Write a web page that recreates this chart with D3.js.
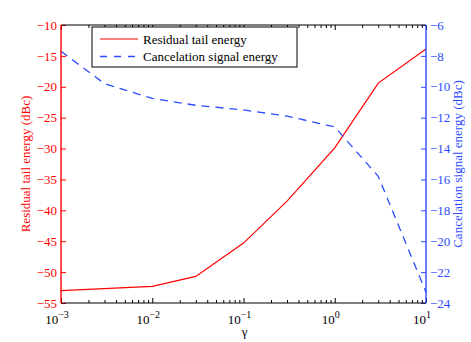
<!DOCTYPE html>
<html>
<head>
<meta charset="utf-8">
<script src="https://d3js.org/d3.v7.min.js"></script>
<style>
  body { margin: 0; background: #fff; }
  svg { font-family: "Liberation Serif", "Times New Roman", serif; }
</style>
</head>
<body>
<div id="chart"></div>
<script>
// data
const gammaRed = [0.001, 0.01, 0.03, 0.1, 0.3, 1, 3, 10];
const residual = [-53.0, -52.3, -50.7, -45.3, -38.5, -29.9, -19.4, -13.9];
const gammaBlue = [0.001, 0.003, 0.01, 0.03, 0.1, 0.3, 1, 3, 10];
const cancel = [-7.7, -9.8, -10.75, -11.2, -11.5, -11.9, -12.6, -15.8, -23.3];
const xTicks = [-3, -2, -1, 0, 1];          // exponents
const leftTicks = [-55, -50, -45, -40, -35, -30, -25, -20, -15, -10];
const rightTicks = [-24, -22, -20, -18, -16, -14, -12, -10, -8, -6];
const seriesNames = ["Residual tail energy", "Cancelation signal energy"];

const W = 471, H = 342;
const margin = { top: 25, right: 45, bottom: 39, left: 61 };
const width = W - margin.left - margin.right;
const height = H - margin.top - margin.bottom;
const RED = "#ff0000", BLUE = "#2b4bff";

const svg = d3.select("#chart").append("svg")
  .attr("width", W).attr("height", H);
const g = svg.append("g").attr("transform", `translate(${margin.left},${margin.top})`);

const x = d3.scaleLog().domain([1e-3, 10]).range([0, width]);
const yL = d3.scaleLinear().domain([-55, -10]).range([height, 0]);
const yR = d3.scaleLinear().domain([-24, -6]).range([height, 0]);

// minor ticks of the log axis
const minor = [];
for (let e = -3; e < 1; e++) for (let k = 2; k <= 9; k++) minor.push(k * Math.pow(10, e));

function styleAxis(sel, color) {
  sel.select(".domain").remove();
  sel.selectAll(".tick line").attr("stroke", color).attr("stroke-width", 1);
  sel.selectAll("text").attr("fill", color).attr("font-size", 13)
    .attr("font-family", "Liberation Serif, serif");
}

// lines
const lineRed = d3.line().x((d, i) => x(gammaRed[i])).y(d => yL(d));
const lineBlue = d3.line().x((d, i) => x(gammaBlue[i])).y(d => yR(d));

g.append("path").datum(residual).attr("d", lineRed)
  .attr("fill", "none").attr("stroke", RED).attr("stroke-width", 1.2);
g.append("path").datum(cancel).attr("d", lineBlue)
  .attr("fill", "none").attr("stroke", BLUE).attr("stroke-width", 1.3)
  .attr("stroke-dasharray", "8,6");

// bottom axis: major + minor
const xb = g.append("g").attr("transform", `translate(0,${height})`)
  .call(d3.axisBottom(x).tickValues(xTicks.map(e => Math.pow(10, e))).tickSize(-5).tickFormat(""));
styleAxis(xb, "#000");
const xbm = g.append("g").attr("transform", `translate(0,${height})`)
  .call(d3.axisBottom(x).tickValues(minor).tickSize(-3).tickFormat(""));
styleAxis(xbm, "#000");
// top ticks
const xt = g.append("g")
  .call(d3.axisTop(x).tickValues(xTicks.map(e => Math.pow(10, e))).tickSize(-5).tickFormat(""));
styleAxis(xt, "#000");
const xtm = g.append("g")
  .call(d3.axisTop(x).tickValues(minor).tickSize(-3).tickFormat(""));
styleAxis(xtm, "#000");

// x tick labels as 10^e
xTicks.forEach(e => {
  const t = g.append("text")
    .attr("x", x(Math.pow(10, e)) - 4).attr("y", height + 21)
    .attr("text-anchor", "middle").attr("font-size", 13).attr("fill", "#000");
  t.append("tspan").text("10");
  t.append("tspan").attr("dy", -6).attr("font-size", 10).text(e < 0 ? "\u2212" + (-e) : e);
});

// left axis (red)
const ya = g.append("g")
  .call(d3.axisLeft(yL).tickValues(leftTicks).tickSize(-5).tickPadding(4));
styleAxis(ya, RED);

// right axis (blue)
const yb = g.append("g").attr("transform", `translate(${width},0)`)
  .call(d3.axisRight(yR).tickValues(rightTicks).tickSize(-5).tickPadding(4));
styleAxis(yb, BLUE);

// spines
g.append("line").attr("x1", 0).attr("x2", width).attr("y1", 0).attr("y2", 0)
  .attr("stroke", "#000").attr("stroke-width", 1.2);
g.append("line").attr("x1", 0).attr("x2", width).attr("y1", height).attr("y2", height)
  .attr("stroke", "#000").attr("stroke-width", 1.2);
g.append("line").attr("x1", 0).attr("x2", 0).attr("y1", 0).attr("y2", height)
  .attr("stroke", RED).attr("stroke-width", 1.4);
g.append("line").attr("x1", width).attr("x2", width).attr("y1", 0).attr("y2", height)
  .attr("stroke", BLUE).attr("stroke-width", 1.4);

// axis titles
g.append("text").attr("x", width / 2 + 1).attr("y", height + 33)
  .attr("text-anchor", "middle").attr("font-size", 13).text("\u03b3");
svg.append("text")
  .attr("transform", `translate(30,${margin.top + height / 2}) rotate(-90)`)
  .attr("text-anchor", "middle").attr("font-size", 13).attr("fill", RED)
  .text("Residual tail energy (dBc)");
svg.append("text")
  .attr("transform", `translate(462,${margin.top + height / 2}) rotate(-90)`)
  .attr("text-anchor", "middle").attr("font-size", 13).attr("fill", BLUE)
  .text("Cancelation signal energy (dBc)");

// legend
const lg = svg.append("g").attr("transform", "translate(92,27)");
lg.append("rect").attr("width", 205).attr("height", 40)
  .attr("fill", "#fff").attr("stroke", "#000").attr("stroke-width", 1);
[RED, BLUE].forEach((c, i) => {
  const yy = 12 + i * 17.5;
  lg.append("line").attr("x1", 8).attr("x2", 46).attr("y1", yy).attr("y2", yy)
    .attr("stroke", c).attr("stroke-width", i ? 1.3 : 1.2)
    .attr("stroke-dasharray", i ? "7,7" : null);
  lg.append("text").attr("x", 51).attr("y", yy + 4.5).attr("font-size", 13)
    .text(seriesNames[i]);
});
</script>
</body>
</html>
